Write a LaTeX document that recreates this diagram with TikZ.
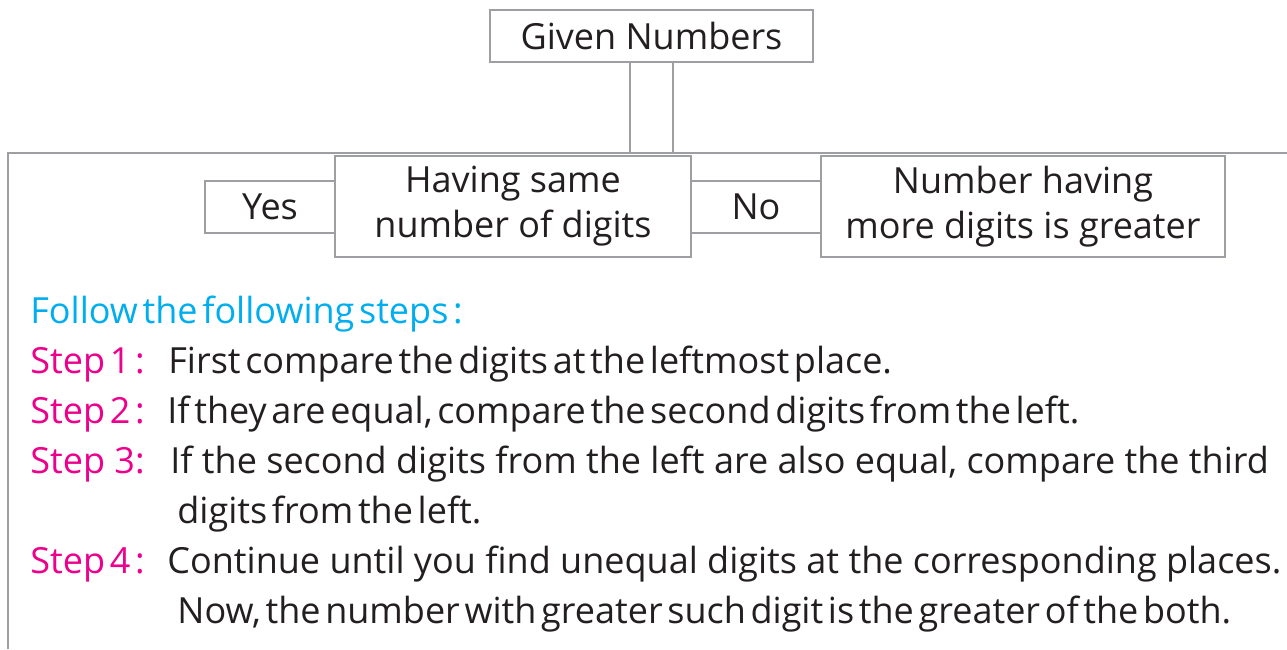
\documentclass[tikz,border=0pt]{standalone}
\usepackage{fontspec}
\setmainfont{Open Sans}
\newfontfamily\tightfont[WordSpace=0.5]{Open Sans}
\usepackage{xcolor}
\usetikzlibrary{positioning}
\definecolor{BoxGray}{HTML}{9D9FA2}
\definecolor{StepCyan}{HTML}{00AEEF}
\definecolor{StepPink}{HTML}{EC008C}
\definecolor{InkBlack}{HTML}{231F20}

\begin{document}
\begin{tikzpicture}[
  x=0.5pt, y=-0.5pt,
  font=\fontsize{18pt}{22.5pt}\selectfont,
  box/.style={draw=BoxGray, line width=1pt, fill=white, align=center, inner sep=0pt, outer sep=0pt, text=InkBlack},
  tallbox/.style={box, minimum height=50.5pt},
  shortbox/.style={box, minimum width=65pt, minimum height=26pt},
  stepname/.style={anchor=base west, inner sep=0pt, text=StepPink},
  steptext/.style={anchor=base west, inner sep=0pt, text=InkBlack},
  tight/.style={font=\tightfont\fontsize{18pt}{22.5pt}\selectfont},
  pipe/.style={draw=BoxGray, line width=1pt}
]
\useasboundingbox (0,0) rectangle (1287,649);

\node[box, minimum width=161.5pt, minimum height=26pt] (given) at (651.5,36) {Given Numbers};
\coordinate (frametop) at (8,153);
\coordinate (frameend) at (1287,153);
\coordinate (framefoot) at (8,649);
\draw[pipe] (framefoot) -- (frametop) -- (frameend);
\draw[pipe] ([xshift=-10.75pt]given.south) -- ([xshift=-10.75pt]given.south |- frametop);
\draw[pipe] ([xshift=10.75pt]given.south) -- ([xshift=10.75pt]given.south |- frametop);

\node[tallbox, minimum width=178pt] (same) at (513,206.5) {Having same\\number of digits};
\node[shortbox, left=0pt of same] (yes) {Yes};
\node[shortbox, right=0pt of same] (no) {No};
\node[tallbox, minimum width=202pt, right=0pt of no] (more) {Number having\\more digits is greater};

\node[anchor=base west, inner sep=0pt, text=StepCyan, tight] (follow) at (30,323) {Follow the following steps :};
\node[stepname, tight] (lab1) at (30,373) {Step 1 :};
\node[steptext, tight] (txt1) at (168,373) {First compare the digits at the leftmost place.};
\node[stepname, tight] (lab2) at (30,423) {Step 2 :};
\node[steptext, tight] (txt2) at (167,423) {If they are equal, compare the second digits from the left.};
\node[stepname] (lab3) at (30,473) {Step 3:};
\node[steptext] (txt3) at (170,473) {If the second digits from the left are also equal, compare the third};
\node[steptext, tight] (txt3b) at (177,523) {digits from the left.};
\node[stepname, tight] (lab4) at (30,573) {Step 4 :};
\node[steptext] (txt4) at (167,573) {Continue until you find unequal digits at the corresponding places.};
\node[steptext, tight] (txt4b) at (177,623) {Now, the number with greater such digit is the greater of the both.};
\end{tikzpicture}
\end{document}
